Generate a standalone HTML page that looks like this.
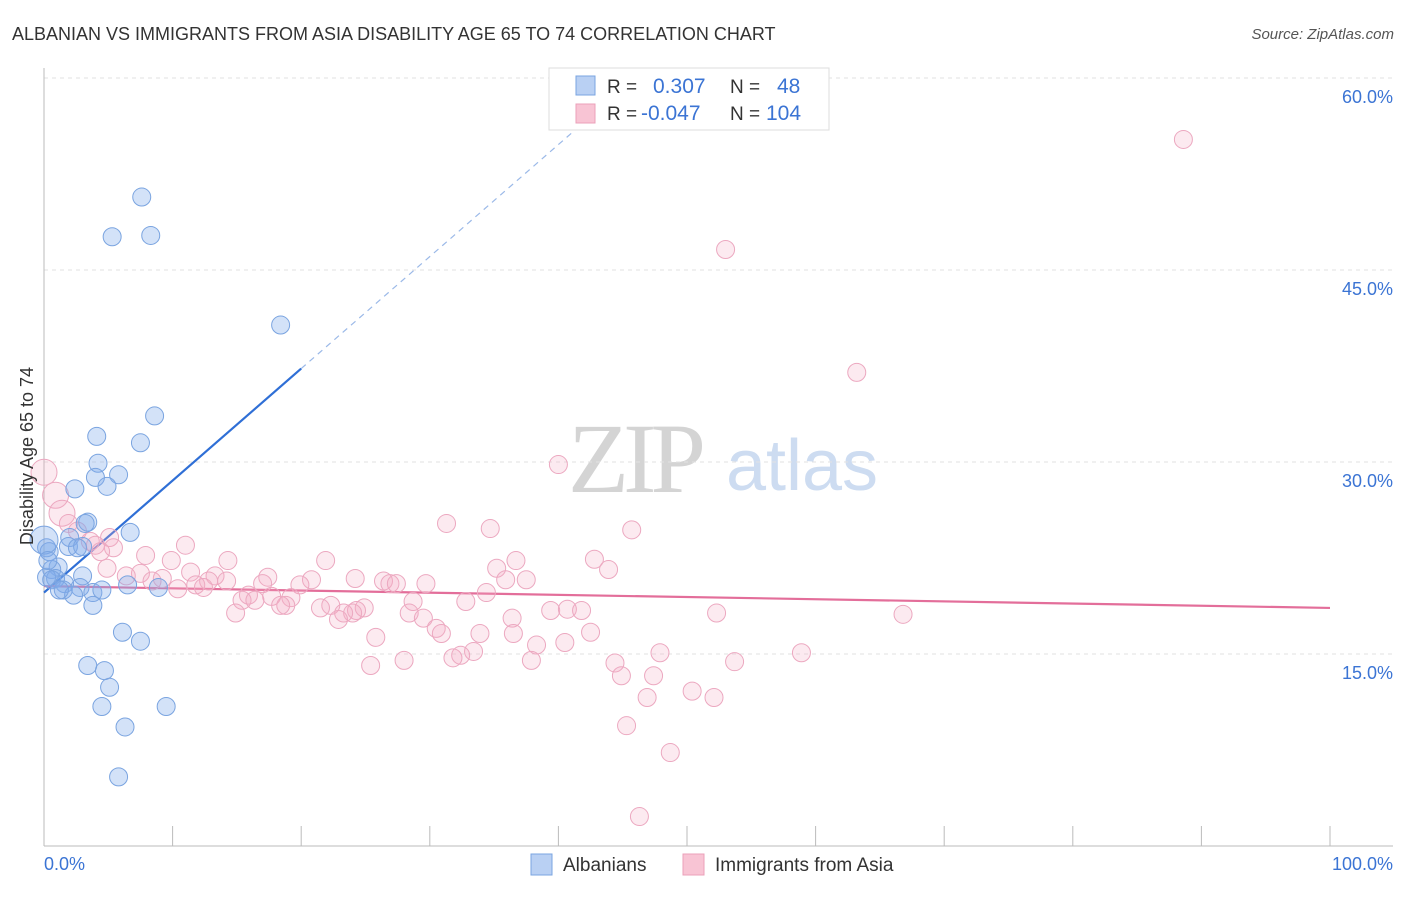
<!DOCTYPE html>
<html><head><meta charset="utf-8"><style>
body{margin:0;background:#fff;font-family:"Liberation Sans",sans-serif;}
</style></head><body>
<svg id="chart" width="1406" height="892" viewBox="0 0 1406 892" xmlns="http://www.w3.org/2000/svg" font-family="Liberation Sans, sans-serif">
<text x="12" y="40" font-size="18" fill="#333">ALBANIAN VS IMMIGRANTS FROM ASIA DISABILITY AGE 65 TO 74 CORRELATION CHART</text>
<text x="1394" y="39" font-size="15" fill="#555" text-anchor="end" font-style="italic">Source: ZipAtlas.com</text>
<g>
<text x="634" y="492" font-size="100" fill="#d4d4d4" text-anchor="middle" style="font-family:'Liberation Serif',serif" letter-spacing="-6">ZIP</text>
<text x="802" y="490" font-size="72" fill="#cddcf1" text-anchor="middle">atlas</text>
</g>
<g id="grid"></g>
<g id="axes"></g>
<g id="trend"></g>
<g id="pts"></g>
<text transform="translate(33,456) rotate(-90)" font-size="18" fill="#333" text-anchor="middle">Disability Age 65 to 74</text>
<g>
<rect x="549" y="68" width="280" height="62" fill="#fff" stroke="#ddd"/>
<rect x="576" y="76" width="19" height="19" fill="#b9d0f3" stroke="#7aa4e0"/>
<rect x="576" y="104" width="19" height="19" fill="#f8c4d4" stroke="#eba0ba"/>
<text x="607" y="93" font-size="19" fill="#333">R = </text><text x="653" y="93" font-size="21" fill="#3b74d4">0.307</text>
<text x="730" y="93" font-size="19" fill="#333">N = </text><text x="777" y="93" font-size="21" fill="#3b74d4">48</text>
<text x="607" y="120" font-size="19" fill="#333">R = </text><text x="641" y="120" font-size="21" fill="#3b74d4">-0.047</text>
<text x="730" y="120" font-size="19" fill="#333">N = </text><text x="766" y="120" font-size="21" fill="#3b74d4">104</text>
</g>
<g>
<rect x="531" y="854" width="21" height="21" fill="#b9d0f3" stroke="#7aa4e0"/>
<text x="563" y="871" font-size="19" fill="#333">Albanians</text>
<rect x="683" y="854" width="21" height="21" fill="#f8c4d4" stroke="#eba0ba"/>
<text x="715" y="871" font-size="19" fill="#333">Immigrants from Asia</text>
</g>
</svg>
<script>
const blueX=[7.6,5.3,8.3,18.4,8.6,7.5,4.1,4.2,4.0,5.8,4.9,2.4,3.4,3.2,6.7,2.0,1.9,3.0,2.6,0.2,0.4,1.1,0.6,0.9,0.2,0.6,1.6,3.0,1.5,2.8,6.5,8.9,2.3,3.8,4.5,3.8,6.1,7.5,3.4,4.7,5.1,4.5,9.5,6.3,5.8,0.0,0.3,1.2];
const blueY=[50.7,47.6,47.7,40.7,33.6,31.5,32.0,29.9,28.8,29.0,28.1,27.9,25.3,25.2,24.5,24.1,23.4,23.4,23.3,23.3,23.0,21.8,21.6,20.9,21.0,20.8,20.5,21.1,20.0,20.2,20.4,20.2,19.6,19.8,20.0,18.8,16.7,16.0,14.1,13.7,12.4,10.9,10.9,9.3,5.4,23.9,22.3,20.0];
const pinkX=[88.6,53.0,63.2,40.0,0,0.9,1.4,1.9,31.3,34.7,45.7,2.6,5.1,3.6,4.0,11.0,5.4,4.4,7.9,9.9,14.3,21.9,36.7,42.8,4.9,35.2,43.9,7.5,11.4,6.4,9.2,13.3,17.4,24.2,35.9,37.5,8.4,12.8,14.2,20.8,26.4,26.9,27.4,29.7,17.0,19.9,11.8,10.4,12.4,34.4,15.9,17.7,19.2,15.4,16.4,32.8,28.7,18.8,18.4,22.3,21.5,24.9,24.3,24.0,23.3,14.9,28.4,29.5,36.4,39.4,40.7,41.8,52.3,66.8,22.9,30.5,30.9,33.9,36.5,42.5,25.8,40.5,38.3,33.4,32.4,31.8,47.9,58.9,28.0,37.9,44.4,53.7,25.4,44.9,47.4,50.4,52.1,46.9,45.3,48.7,46.3];
const pinkY=[55.2,46.6,37.0,29.8,29.2,27.4,26.0,25.2,25.2,24.8,24.7,24.6,24.1,23.8,23.5,23.5,23.3,23.0,22.7,22.3,22.3,22.3,22.3,22.4,21.7,21.7,21.6,21.3,21.4,21.1,20.9,21.1,21.0,20.9,20.8,20.8,20.7,20.7,20.7,20.8,20.7,20.5,20.5,20.5,20.5,20.4,20.4,20.1,20.2,19.8,19.6,19.5,19.4,19.2,19.2,19.1,19.1,18.8,18.8,18.8,18.6,18.6,18.4,18.2,18.2,18.2,18.2,17.8,17.8,18.4,18.5,18.4,18.2,18.1,17.7,17.0,16.6,16.6,16.6,16.7,16.3,15.9,15.7,15.2,14.9,14.7,15.1,15.1,14.5,14.5,14.3,14.4,14.1,13.3,13.3,12.1,11.6,11.6,9.4,7.3,2.3];
const yTicks=[15,30,45,60];
const yTickLabels=["15.0%","30.0%","45.0%","60.0%"];
const xTicks=[0,10,20,30,40,50,60,70,80,90,100];
const blueTrend=[0,19.8,20,37.3,41.7];
const pinkTrend=[0,20.3,100,18.6];

const NS="http://www.w3.org/2000/svg";
const X=v=>44+v*12.86;
const Y=v=>846-v*12.8;
function mk(tag,attrs,parent){const e=document.createElementNS(NS,tag);for(const k in attrs)e.setAttribute(k,attrs[k]);parent.appendChild(e);return e;}
const grid=document.getElementById('grid'),axes=document.getElementById('axes'),trend=document.getElementById('trend'),pts=document.getElementById('pts');
yTicks.forEach((t,i)=>{
 const l=mk('line',{x1:44,x2:1393,y1:Y(t),y2:Y(t),stroke:'#e2e2e2','stroke-dasharray':'4,4'},grid);
 
 
 const tx=mk('text',{x:1393,y:Y(t)+25,'font-size':18,fill:'#3b74d4','text-anchor':'end'},axes);
 tx.textContent=yTickLabels[i];
 
 
});
const ax=mk('line',{x1:44,x2:44,y1:68,y2:846,stroke:'#bbb'},axes);


const bx=mk('line',{x1:44,x2:1393,y1:846,y2:846,stroke:'#bbb'},axes);


xTicks.forEach(t=>{const l=mk('line',{x1:X(t),x2:X(t),y1:826,y2:846,stroke:'#bbb'},axes);
 
 });
const xl0=mk('text',{x:44,y:870,'font-size':18,fill:'#3b74d4'},axes);xl0.textContent="0.0%";


const xl1=mk('text',{x:1393,y:870,'font-size':18,fill:'#3b74d4','text-anchor':'end'},axes);xl1.textContent="100.0%";



pinkX.forEach((x,i)=>{const r=(x<1.5&&pinkY[i]>25.5)?13:9;
 const c=mk('circle',{cx:X(x),cy:Y(pinkY[i]),r:r,fill:'rgba(244,170,195,0.25)',stroke:'#eca8c0','stroke-width':1},pts);
 
 });
blueX.forEach((x,i)=>{const r=(i===45)?14:9;
 const c=mk('circle',{cx:X(x),cy:Y(blueY[i]),r:r,fill:'rgba(130,172,236,0.35)',stroke:'#7aa4e0','stroke-width':1},pts);
 
 });
const bslope=(blueTrend[3]-blueTrend[1])/(blueTrend[2]-blueTrend[0]);
const b1=mk('line',{x1:X(blueTrend[0]),y1:Y(blueTrend[1]),x2:X(blueTrend[2]),y2:Y(blueTrend[3]),stroke:'#2f6fd6','stroke-width':2.2},trend);


const b2=mk('line',{x1:X(blueTrend[2]),y1:Y(blueTrend[3]),x2:X(blueTrend[4]),y2:Y(blueTrend[1]+bslope*blueTrend[4]),stroke:'#9bb9e8','stroke-width':1.2,'stroke-dasharray':'6,5'},trend);


const p1=mk('line',{x1:X(pinkTrend[0]),y1:Y(pinkTrend[1]),x2:X(pinkTrend[2]),y2:Y(pinkTrend[3]),stroke:'#e36e9a','stroke-width':2.2},trend);


</script>
</body></html>
